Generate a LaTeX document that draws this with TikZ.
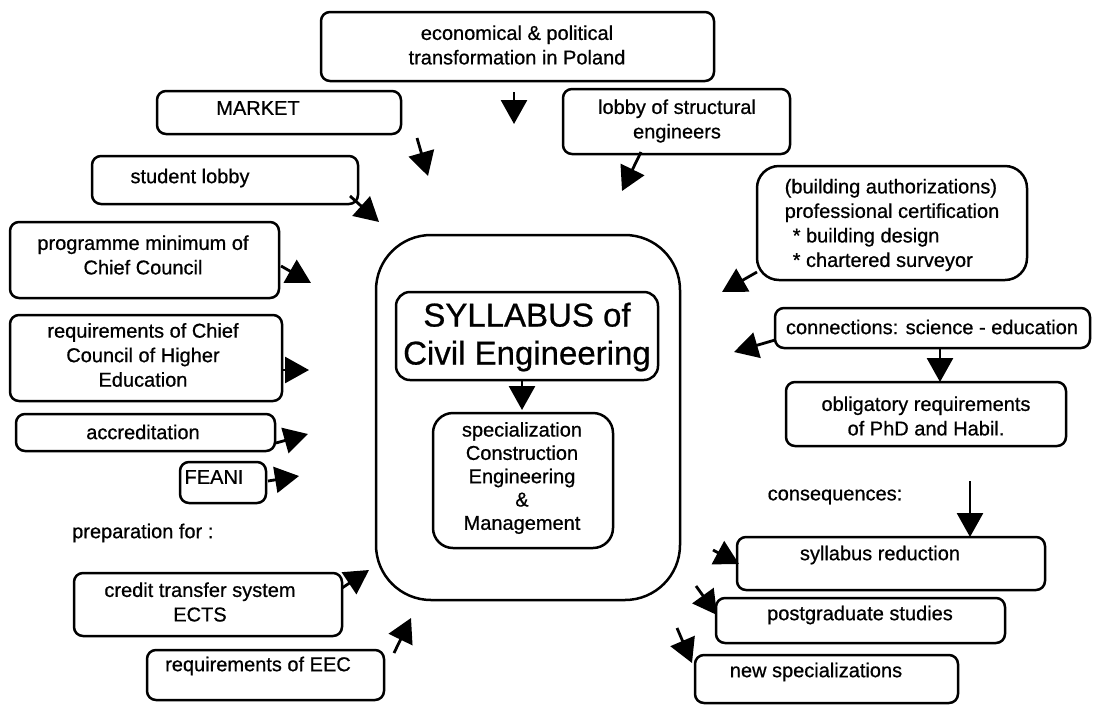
\documentclass[tikz,border=0pt]{standalone}
\usepackage{fontspec}
\setmainfont{Liberation Sans}[FakeBold=0.7]
\usetikzlibrary{arrows.meta}
\newcommand\fsmall{\fontsize{20}{24.5}\selectfont}
\newcommand\fbig{\fontsize{33}{38}\selectfont}
\begin{document}
\begin{tikzpicture}[x=1pt,y=-1pt,
  box/.style={draw, line width=2.5pt, rounded corners=9pt, inner sep=0pt},
  txt/.style={align=center, font=\fsmall, inner sep=0pt},
  arr/.style={line width=2.8pt, -{Triangle[length=24pt 0 0,width=26pt 0 0]}}]
\useasboundingbox[fill=white] (0,0) rectangle (1102,705);

% boxes
\node[box, minimum width=393, minimum height=69] (econ) at (517.5,46.5) {};
\node[box, minimum width=244, minimum height=43] (market) at (279,112.5) {};
\node[box, minimum width=227, minimum height=65] (lobby) at (676.5,121.5) {};
\node[box, minimum width=266, minimum height=48] (student) at (225,180) {};
\node[box, minimum width=269, minimum height=76] (prog) at (144.5,260) {};
\node[box, minimum width=272, minimum height=86] (req) at (146,358) {};
\node[box, minimum width=259, minimum height=37] (accr) at (145.5,432.5) {};
\node[box, minimum width=86, minimum height=41] (feani) at (223,482.5) {};
\node[box, minimum width=268, minimum height=63] (credit) at (208,604.5) {};
\node[box, minimum width=237, minimum height=50] (eec) at (265.5,675) {};
\node[box, rounded corners=55pt, minimum width=304, minimum height=365] (big) at (528,417.5) {};
\node[box, rounded corners=14pt, minimum width=262, minimum height=88] (syl) at (527,336) {};
\node[box, rounded corners=20pt, minimum width=180, minimum height=135] (spec) at (523,480.5) {};
\node[box, rounded corners=22pt, minimum width=270, minimum height=114] (build) at (892,223) {};
\node[box, minimum width=315, minimum height=40] (conn) at (932.5,328) {};
\node[box, minimum width=280, minimum height=64] (oblig) at (926,414) {};
\node[box, minimum width=308, minimum height=53] (sred) at (891,563.5) {};
\node[box, minimum width=289, minimum height=45] (post) at (860.5,620.5) {};
\node[box, minimum width=263, minimum height=48] (newsp) at (826.5,679) {};

% texts
\node[txt] (econT) at (517,45) {economical \& political\\transformation in Poland};
\node[txt] (marketT) at (258,108) {MARKET};
\node[txt] (lobbyT) at (677,121) {lobby of structural\\engineers};
\node[txt] (studentT) at (190,178) {student lobby};
\node[txt] (progT) at (143,255) {programme minimum of\\Chief Council};
\node[txt] (reqT) at (143,355) {requirements of Chief\\Council of Higher\\Education};
\node[txt] (accrT) at (143,432) {accreditation};
\node[txt] (feaniT) at (214,477) {FEANI};
\node[txt, anchor=west] (prepT) at (72,533) {preparation for :};
\node[txt] (creditT) at (200,602) {credit transfer system\\ECTS};
\node[txt] (eecT) at (258,666) {requirements of EEC};
\node[txt, font=\fbig] (sylT) at (527,337) {SYLLABUS of\\Civil Engineering};
\node[txt, font=\fontsize{20}{23.3}\selectfont] (specT) at (522,478) {specialization\\Construction\\Engineering\\\&\\Management};
\node[txt, align=left] (buildT) at (892,225) {(building authorizations)\\professional certification\\\hspace{8pt}* building design\\\hspace{8pt}* chartered surveyor};
\node[txt] (connT) at (932,327) {connections: science - education};
\node[txt] (obligT) at (926,416) {obligatory requirements\\of PhD and Habil.};
\node[txt] (consT) at (835,497) {consequences:};
\node[txt] (sredT) at (880,555) {syllabus reduction};
\node[txt] (postT) at (860,615) {postgraduate studies};
\node[txt] (newspT) at (816,672) {new specializations};

% arrow end points
\coordinate (a1s) at (514,92);  \coordinate (a1e) at (514,124);
\coordinate (a2s) at (417,138); \coordinate (a2e) at (428,176);
\coordinate (a3s) at (641,152); \coordinate (a3e) at (622,191);
\coordinate (a4s) at (350,196); \coordinate (a4e) at (379,222);
\coordinate (a5s) at (281,266); \coordinate (a5e) at (311,283);
\coordinate (a6s) at (283,370); \coordinate (a6e) at (309,370);
\coordinate (a7s) at (276,443); \coordinate (a7e) at (308,434);
\coordinate (a8s) at (268,481); \coordinate (a8e) at (299,476);
\coordinate (a9s) at (342,588); \coordinate (a9e) at (369,570);
\coordinate (a10s) at (394,653); \coordinate (a10e) at (411,618);
\coordinate (a11e) at (522,410);
\coordinate (a12s) at (757,272); \coordinate (a12e) at (722,292);
\coordinate (a13s) at (775,340); \coordinate (a13e) at (734,352);
\coordinate (a14s) at (940,348); \coordinate (a14e) at (940,382);
\coordinate (a15s) at (970,481); \coordinate (a15e) at (970,537);
\coordinate (a16s) at (713,550); \coordinate (a16e) at (739,564);
\coordinate (a17s) at (696,586); \coordinate (a17e) at (717,615);
\coordinate (a18s) at (677,628); \coordinate (a18e) at (692,663);

\draw[arr] (a1s) -- (a1e);
\draw[arr] (a2s) -- (a2e);
\draw[arr] (a3s) -- (a3e);
\draw[arr] (a4s) -- (a4e);
\draw[arr] (a5s) -- (a5e);
\draw[arr] (a6s) -- (a6e);
\draw[arr] (a7s) -- (a7e);
\draw[arr] (a8s) -- (a8e);
\draw[arr] (a9s) -- (a9e);
\draw[arr] (a10s) -- (a10e);
\draw[arr] (syl.south -| a11e) -- (a11e);
\draw[arr] (a12s) -- (a12e);
\draw[arr] (a13s) -- (a13e);
\draw[arr] (a14s) -- (a14e);
\draw[arr] (a15s) -- (a15e);
\draw[arr] (a16s) -- (a16e);
\draw[arr] (a17s) -- (a17e);
\draw[arr] (a18s) -- (a18e);
\end{tikzpicture}
\end{document}
